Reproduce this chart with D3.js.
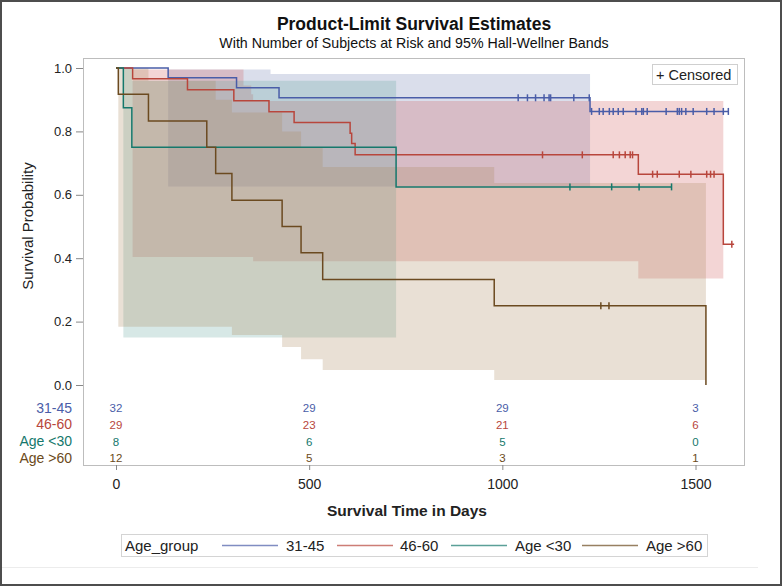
<!DOCTYPE html>
<html><head><meta charset="utf-8">
<script src="https://cdn.jsdelivr.net/npm/d3@7"></script>
<style>body{margin:0;background:#fff}svg{display:block}</style>
</head><body>
<svg id="c" width="782" height="586"></svg>
<script>
// ---------- data ----------
const groups = ["31-45", "46-60", "Age <30", "Age >60"];
const lineColors = ["#4A5DA8", "#B8463C", "#15786C", "#6B4A20"];
const fillColors = ["#6F7EB3", "#D05B5B", "#66A5A0", "#A9865B"];

// Kaplan-Meier step estimates (time of event, survival after event)
const timesA = [0, 135, 312, 422, 1227];
const survA  = [1, 0.969, 0.938, 0.906, 0.863];
const endA = 1585;
const censA = [1041,1065,1086,1108,1121,1125,1185,1225,1231,1251,1261,1277,1287,1300,1313,1346,1361,1365,1375,1424,1453,1458,1464,1475,1494,1529,1548,1572,1585];

const timesB = [0, 43, 185, 305, 396, 461, 606, 610, 619, 1352, 1572];
const survB  = [1, 0.966, 0.931, 0.897, 0.862, 0.828, 0.794, 0.762, 0.726, 0.665, 0.444];
const endB = 1600;
const censB = [1104,1207,1287,1303,1318,1331,1337,1389,1401,1458,1488,1529,1539,1548,1594];

const timesC = [0, 19, 41, 725];
const survC  = [1, 0.875, 0.75, 0.625];
const endC = 1438;
const censC = [1175, 1283, 1354, 1438];

const timesD = [0, 6, 84, 235, 258, 300, 430, 479, 535, 979, 1527];
const survD  = [1, 0.917, 0.833, 0.75, 0.667, 0.583, 0.5, 0.417, 0.333, 0.25, 0];
const endD = 1527;
const censD = [1255, 1276];

// 95% Hall-Wellner bands (step start time, lower, upper)
const bandTA = [135, 400, 1227];
const bandLA = [0.626, 0.626, 0.626];
const bandUA = [0.995, 0.981, 0.981];

const bandTB = [43, 330, 350, 355, 1352, 1572];
const bandLB = [0.404, 0.404, 0.404, 0.39, 0.336, 0.336];
const bandUB = [0.995, 0.945, 0.917, 0.896, 0.896, 0.896];

const bandTC = [19, 41, 725];
const bandLC = [0.15, 0.15, 0.15];
const bandUC = [1.0, 0.96, 0.96];

const bandTD = [6, 84, 258, 300, 430, 479, 535, 979, 1527];
const bandLD = [0.184, 0.184, 0.184, 0.158, 0.12, 0.081, 0.047, 0.016, 0.016];
const bandUD = [1.0, 0.96, 0.9, 0.86, 0.8, 0.75, 0.688, 0.637, 0.637];

// Number of subjects at risk
const riskTimes = [0, 500, 1000, 1500];
const riskA = [32, 29, 29, 3];
const riskB = [29, 23, 21, 6];
const riskC = [8, 6, 5, 0];
const riskD = [12, 5, 3, 1];

const xTicks = [0, 500, 1000, 1500];
const yTicks = [0, 0.2, 0.4, 0.6, 0.8, 1.0];

// ---------- assemble ----------
const series = [
  {times: timesA, surv: survA, end: endA, cens: censA, bt: bandTA, bl: bandLA, bu: bandUA, risk: riskA},
  {times: timesB, surv: survB, end: endB, cens: censB, bt: bandTB, bl: bandLB, bu: bandUB, risk: riskB},
  {times: timesC, surv: survC, end: endC, cens: censC, bt: bandTC, bl: bandLC, bu: bandUC, risk: riskC},
  {times: timesD, surv: survD, end: endD, cens: censD, bt: bandTD, bl: bandLD, bu: bandUD, risk: riskD}
];

const svg = d3.select("#c");
const narrow = "'Liberation Sans Narrow','Arial Narrow','Liberation Sans',Arial,sans-serif";
const sans = "'Liberation Sans',Arial,Helvetica,sans-serif";

const frame = {l: 83, t: 58, r: 744, b: 465};
const x = d3.scaleLinear().domain([0, 1500]).range([116, 695.5]);
const y = d3.scaleLinear().domain([0, 1]).range([385, 68]);

// outer border
svg.append("rect").attr("x", 1).attr("y", 1).attr("width", 780).attr("height", 584)
  .attr("fill", "#fff").attr("stroke", "#4d4d4d").attr("stroke-width", 2);

// titles
svg.append("text").attr("x", 414).attr("y", 30).attr("text-anchor", "middle")
  .style("font-family", sans).style("font-size", "17.5px").style("font-weight", "bold").attr("fill", "#111")
  .text("Product-Limit Survival Estimates");
svg.append("text").attr("x", 414).attr("y", 48).attr("text-anchor", "middle")
  .style("font-family", sans).style("font-size", "14.2px").attr("fill", "#111")
  .text("With Number of Subjects at Risk and 95% Hall-Wellner Bands");

// clip
svg.append("clipPath").attr("id", "clip").append("rect")
  .attr("x", frame.l).attr("y", frame.t).attr("width", frame.r - frame.l).attr("height", frame.b - frame.t);

const plot = svg.append("g").attr("clip-path", "url(#clip)");

// bands
const area = d3.area().curve(d3.curveStepAfter)
  .x(d => x(d[0])).y0(d => y(d[1])).y1(d => y(d[2]));
series.forEach((s, i) => {
  const pts = s.bt.map((t, j) => [t, s.bl[j], s.bu[j]]);
  plot.append("path").attr("d", area(pts))
    .attr("fill", fillColors[i]).attr("fill-opacity", 0.26).attr("stroke", "none");
});

// step lines
const line = d3.line().curve(d3.curveStepAfter).x(d => x(d[0])).y(d => y(d[1]));
series.forEach((s, i) => {
  const pts = s.times.map((t, j) => [t, s.surv[j]]);
  const last = s.surv[s.surv.length - 1];
  if (last > 0) pts.push([s.end, last]);
  plot.append("path").attr("d", line(pts)).attr("fill", "none")
    .attr("stroke", lineColors[i]).attr("stroke-width", 1.5);
});

// censored marks
function survAt(s, t) {
  let v = s.surv[0];
  for (let j = 0; j < s.times.length; j++) if (s.times[j] <= t) v = s.surv[j];
  return v;
}
series.forEach((s, i) => {
  plot.append("g").selectAll("line").data(s.cens).join("line")
    .attr("x1", d => x(d)).attr("x2", d => x(d))
    .attr("y1", d => y(survAt(s, d)) - 3.5).attr("y2", d => y(survAt(s, d)) + 3.5)
    .attr("stroke", lineColors[i]).attr("stroke-width", 1.5);
});

// frame
svg.append("rect").attr("x", frame.l + 0.5).attr("y", frame.t + 0.5)
  .attr("width", frame.r - frame.l).attr("height", frame.b - frame.t)
  .attr("fill", "none").attr("stroke", "#bdbdbd");

// y axis
const yAxis = svg.append("g").attr("transform", `translate(${frame.l},0)`)
  .call(d3.axisLeft(y).tickValues(yTicks).tickFormat(d3.format(".1f")).tickSize(7).tickPadding(4));
yAxis.select(".domain").remove();
yAxis.selectAll("line").attr("stroke", "#888");
yAxis.selectAll("text").style("font-family", sans).style("font-size", "13px").attr("fill", "#222");

// x axis
const xAxis = svg.append("g").attr("transform", `translate(0,${frame.b})`)
  .call(d3.axisBottom(x).tickValues(xTicks).tickFormat(d3.format("d")).tickSize(5).tickPadding(9));
xAxis.select(".domain").remove();
xAxis.selectAll("line").attr("stroke", "#888");
xAxis.selectAll("text").style("font-family", narrow).style("font-size", "14px").attr("fill", "#222");

// axis labels
svg.append("text").attr("x", 407).attr("y", 516).attr("text-anchor", "middle")
  .style("font-family", narrow).style("font-size", "15.5px").style("font-weight", "bold").attr("fill", "#222")
  .text("Survival Time in Days");
svg.append("text").attr("transform", "translate(33,226) rotate(-90)").attr("text-anchor", "middle")
  .style("font-family", narrow).style("font-size", "15px").attr("fill", "#222")
  .text("Survival Probability");

// at-risk table
const rowY = [412.5, 429.2, 446, 462.5];
series.forEach((s, i) => {
  svg.append("text").attr("x", 72).attr("y", rowY[i]).attr("text-anchor", "end")
    .style("font-family", narrow).style("font-size", "14px").attr("fill", lineColors[i])
    .text(groups[i]);
  svg.append("g").selectAll("text").data(riskTimes).join("text")
    .attr("x", d => x(d)).attr("y", rowY[i] - 0.5).attr("text-anchor", "middle")
    .style("font-family", narrow).style("font-size", "11.5px").attr("fill", lineColors[i])
    .text((d, j) => s.risk[j]);
});

// censored legend
svg.append("rect").attr("x", 652.5).attr("y", 64.5).attr("width", 85).attr("height", 20)
  .attr("fill", "#fff").attr("stroke", "#cfcfcf");
svg.append("text").attr("x", 656).attr("y", 79.5).style("font-family", sans).style("font-size", "14.5px")
  .attr("fill", "#222").text("+ Censored");

// bottom legend
svg.append("rect").attr("x", 121.5).attr("y", 534.5).attr("width", 586).attr("height", 22)
  .attr("fill", "#fff").attr("stroke", "#d4d4d4");
svg.append("text").attr("x", 125).attr("y", 550.5).style("font-family", narrow).style("font-size", "15px")
  .attr("fill", "#222").text("Age_group");
const swX = [222, 337, 451, 582];
const lbX = [286, 400, 515, 646];
groups.forEach((g, i) => {
  svg.append("line").attr("x1", swX[i]).attr("x2", swX[i] + 56).attr("y1", 545.5).attr("y2", 545.5)
    .attr("stroke", lineColors[i]).attr("stroke-width", 1.5).attr("stroke-opacity", 0.7);
  svg.append("text").attr("x", lbX[i]).attr("y", 550.5).style("font-family", narrow).style("font-size", "15px")
    .attr("fill", "#222").text(g);
});

// separator line
svg.append("line").attr("x1", 2).attr("x2", 758).attr("y1", 567.5).attr("y2", 567.5)
  .attr("stroke", "#ececec");
</script>
</body></html>
